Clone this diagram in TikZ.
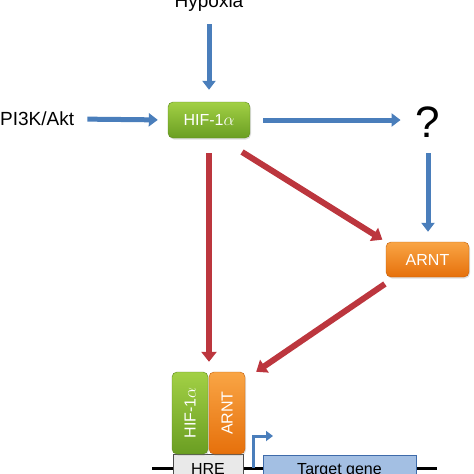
\documentclass[tikz,border=0pt]{standalone}
\usepackage{fontspec}
\setmainfont{Liberation Sans}
\usepackage{graphicx}
\usetikzlibrary{arrows.meta, positioning, calc, shadows}
\definecolor{hblue}{HTML}{4A7EBB}
\definecolor{hred}{HTML}{BC363E}
\definecolor{hgreentop}{HTML}{A2D045}
\definecolor{hgreenbot}{HTML}{6A9E22}
\definecolor{hgreenline}{HTML}{5C8A1E}
\definecolor{horangetop}{HTML}{F9A545}
\definecolor{horangebot}{HTML}{E6700B}
\definecolor{horangeline}{HTML}{C25E0A}
\definecolor{hgene}{HTML}{A3BFE3}
\definecolor{hgeneline}{HTML}{3E6BAA}
\definecolor{hhre}{HTML}{E9E9E9}
\tikzset{
  lbl/.style={inner sep=0pt, font=\fontsize{19}{22}\selectfont},
  gbox/.style={draw=hgreenline, top color=hgreentop, bottom color=hgreenbot,
               rounded corners=5pt, inner sep=0pt, text=white,
               drop shadow={shadow xshift=1pt, shadow yshift=-1.5pt, opacity=0.25},
               font=\fontsize{16}{19}\selectfont},
  obox/.style={draw=horangeline, top color=horangetop, bottom color=horangebot,
               rounded corners=5pt, inner sep=0pt, text=white,
               drop shadow={shadow xshift=1pt, shadow yshift=-1.5pt, opacity=0.25},
               font=\fontsize{16}{19}\selectfont},
  dnabox/.style={draw=black!70, inner sep=0pt, font=\fontsize{16}{19}\selectfont},
  barr/.style={-{Triangle[width=13pt,length=9pt]}, line width=5pt, hblue},
  rarr/.style={-{Triangle[width=15pt,length=10pt]}, line width=6pt, hred},
}
\begin{document}
\begin{tikzpicture}[x=1pt, y=-1pt]
  \useasboundingbox (0,0) rectangle (474,474);
  \clip (0,0) rectangle (474,474);
  % top row
  \node[lbl, anchor=base] (hyp) at (209,7) {Hypoxia};
  \node[lbl, anchor=west] (pik) at (0,119) {PI3K/Akt};
  \node[gbox, minimum width=82pt, minimum height=36pt] (hif) at (209,120) {HIF-1$\alpha$};
  \node[inner sep=0pt, anchor=base, font=\fontsize{44}{50}\selectfont] (q) at (428,137) {?};
  \node[obox, minimum width=83pt, minimum height=35pt] (arnt) at (427.5,259.5) {ARNT};
  % promoter
  \coordinate (dnal) at (152,468);
  \coordinate (dnar) at (437,468);
  \coordinate (prom) at (253,468);
  \draw[line width=3pt] (dnal) -- (dnar);
  \node[dnabox, fill=hhre, minimum width=70pt, minimum height=40pt, anchor=north] (hre) at (208,454) {};
  \node[dnabox, draw=hgeneline, fill=hgene, minimum width=153pt, minimum height=40pt, anchor=north] (tgt) at (339.5,455) {};
  \node[inner sep=0pt, anchor=base, font=\fontsize{16}{19}\selectfont] (hrelbl) at (208,474.5) {HRE};
  \node[inner sep=0pt, anchor=base, font=\fontsize{16}{19}\selectfont] (tgtlbl) at (339.5,474.5) {Target gene};
  \node[gbox, minimum width=36pt, minimum height=82pt] (chif) at (190,413) {\rotatebox{90}{HIF-1$\alpha$}};
  \node[obox, minimum width=36pt, minimum height=82pt] (carnt) at (227,413) {\rotatebox{90}{ARNT}};
  \draw[-{Triangle[width=10pt,length=7pt]}, line width=3pt, hblue]
    (prom) -- ++(0,-32) -- ++(20,0);
  % blue arrows
  \draw[barr, shorten <=13pt, shorten >=12pt] (hyp.south) -- (hif.north);
  \draw[barr, shorten <=13pt, shorten >=10pt] (pik.east) -- (hif.west);
  \draw[barr, shorten <=13pt, shorten >=15pt] (hif.east) -- (q.west |- hif.east);
  \draw[barr, shorten <=16pt, shorten >=10pt] (q.south) -- (q.south |- arnt.north);
  % red arrows
  \draw[rarr, shorten <=15pt, shorten >=10pt] (hif.south) -- (hif.south |- chif.north);
  \draw[rarr, shorten <=26pt, shorten >=4pt] ([xshift=11pt]hif.south) -- (arnt.north west);
  \draw[rarr, shorten <=12pt, shorten >=0pt] ([xshift=9pt]arnt.south west) -- ([xshift=11pt]carnt.north east);
\end{tikzpicture}
\end{document}
